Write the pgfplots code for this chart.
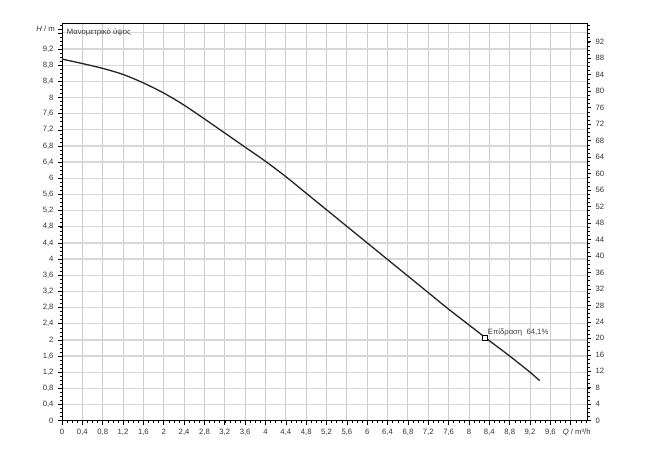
\documentclass[border=0pt]{standalone}
\usepackage{fontspec}
\setmainfont{Liberation Sans}
\usepackage{pgfplots}
\pgfplotsset{compat=1.18}

\definecolor{gridgrey}{RGB}{205,205,205}
\definecolor{curve}{RGB}{35,35,40}

\begin{document}
\begin{tikzpicture}[font=\fontsize{7.7}{9}\selectfont]
\useasboundingbox (-62pt,-37.3pt) rectangle (588pt,420.7pt);

\pgfplotsset{
  pumpaxis/.style={
    at={(0,0)}, anchor=south west,
    scale only axis, width=525pt, height=397.4pt,
    xmin=0, xmax=10.32,
    tick align=outside,
    major tick length=4pt, minor tick length=2.5pt,
    every tick/.style={black, line width=0.6pt},
    every minor tick/.style={black, line width=0.5pt},
    axis line style={black, line width=0.8pt},
    tick label style={text=black!80, font=\fontsize{7.7}{9}\selectfont},
    /pgf/number format/assume math mode=true,
  }
}

% left axis: H / m
\begin{axis}[pumpaxis,
  ymin=0, ymax=9.836,
  xtick pos=bottom, ytick pos=left,
  xtick={0,0.4,0.8,1.2,1.6,2,2.4,2.8,3.2,3.6,4,4.4,4.8,5.2,5.6,6,6.4,6.8,7.2,7.6,8,8.4,8.8,9.2,9.6,10},
  xticklabels={0,{0,4},{0,8},{1,2},{1,6},2,{2,4},{2,8},{3,2},{3,6},4,{4,4},{4,8},{5,2},{5,6},6,{6,4},{6,8},{7,2},{7,6},8,{8,4},{8,8},{9,2},{9,6},{}},
  minor xtick={0,0.1,...,10.3},
  ytick={0,0.4,0.8,1.2,1.6,2,2.4,2.8,3.2,3.6,4,4.4,4.8,5.2,5.6,6,6.4,6.8,7.2,7.6,8,8.4,8.8,9.2,9.6},
  yticklabels={0,{0,4},{0,8},{1,2},{1,6},2,{2,4},{2,8},{3,2},{3,6},4,{4,4},{4,8},{5,2},{5,6},6,{6,4},{6,8},{7,2},{7,6},8,{8,4},{8,8},{9,2},{}},
  minor ytick={0,0.1,...,9.8},
  xticklabel style={yshift=-1pt},
  yticklabel style={xshift=-1pt},
  xmajorgrids, ymajorgrids,
  major x grid style={gridgrey, line width=0.9pt},
  major y grid style={gridgrey!80, line width=1.3pt},
  clip=false,
]
\addplot[color=curve, line width=1.3pt, smooth] coordinates {
  (0,8.95) (0.4,8.84) (0.8,8.72) (1.2,8.57) (1.6,8.36) (2.0,8.11)
  (2.4,7.81) (2.8,7.47) (3.2,7.12) (3.6,6.77) (4.0,6.42) (4.4,6.04)
  (4.8,5.63) (5.2,5.22) (5.6,4.81) (6.0,4.40) (6.4,3.99) (6.8,3.58)
  (7.2,3.17) (7.6,2.76) (8.0,2.37) (8.4,1.98) (8.8,1.60) (9.2,1.20)
  (9.39,0.99)
};
\addplot[only marks, mark=square*, mark size=2.6pt,
  mark options={fill=white, draw=black, line width=0.9pt}]
  coordinates {(8.32,2.05)};

\node[anchor=west, inner sep=0pt, text=black!75, xshift=2.5pt, yshift=5pt]
  at (axis cs:8.32,2.05) {Επίδραση\ \ 64,1\%};
\node[anchor=west, inner sep=0pt, text=black!80, xshift=4.7pt, yshift=-9pt]
  at (rel axis cs:0,1) {Μανομετρικό ύψος};
\node[anchor=east, inner sep=0pt, text=black!80, xshift=-7pt]
  at (axis cs:0,9.69) {\textit{H} / m};
\draw[black, line width=0.6pt] (axis cs:0,9.69) -- ++(-4pt,0);
\node[anchor=north west, inner sep=0.333em, text=black!80, yshift=-5pt, xshift=-0.333em]
  at (axis cs:9.84,0) {\textit{Q} / m³/h};
\end{axis}

% right axis: delta p / kPa
\begin{axis}[pumpaxis,
  ymin=0, ymax=96.49,
  axis x line=none,
  axis y line*=right,
  ytick={0,4,...,92},
  minor ytick={0,1,...,96},
  yticklabel style={xshift=1pt},
]
\node[anchor=west, inner sep=0pt, text=black!80, xshift=7pt]
  at (axis cs:10.32,95.1) {Δ\textit{p} / kPa};
\draw[black, line width=0.6pt] (axis cs:10.32,95.1) -- ++(4pt,0);
\end{axis}
\end{tikzpicture}
\end{document}
